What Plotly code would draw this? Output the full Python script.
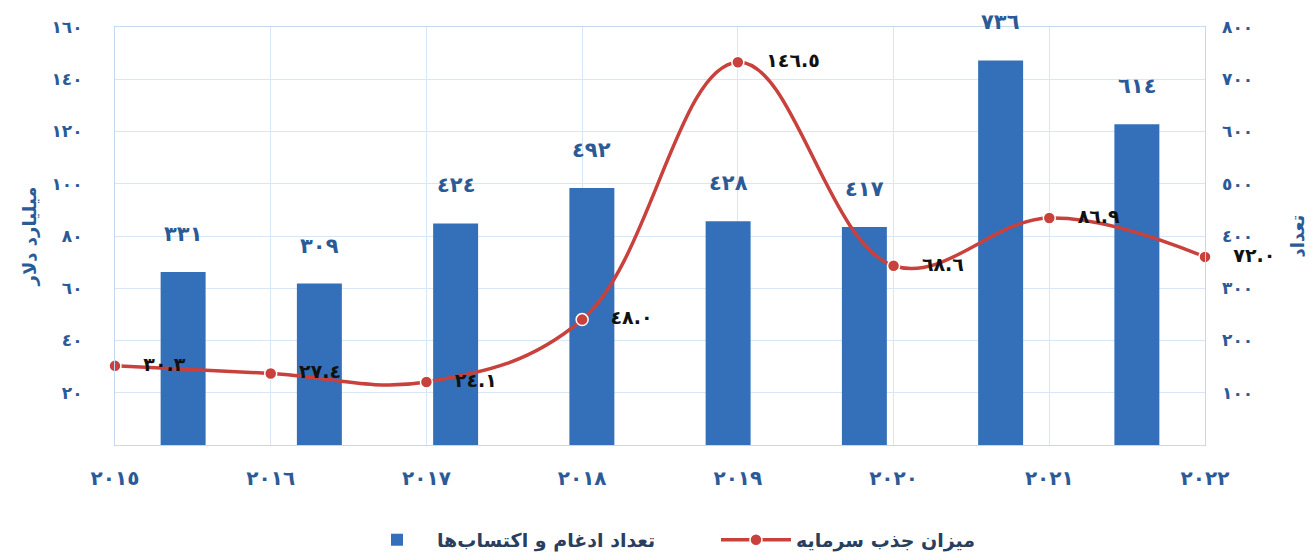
import plotly.graph_objects as go

years = [2015, 2016, 2017, 2018, 2019, 2020, 2021, 2022]
deals = [331, 309, 424, 492, 428, 417, 736, 614]
investment = [30.3, 27.4, 24.1, 48.0, 146.5, 68.6, 86.9, 72.0]
left_ticks = [20, 40, 60, 80, 100, 120, 140, 160]
right_ticks = [100, 200, 300, 400, 500, 600, 700, 800]

bar_name = "تعداد ادغام و اکتساب‌ها"
line_name = "میزان جذب سرمایه"
left_title = "میلیارد دلار"
right_title = "تعداد"

AR = str.maketrans("0123456789", "٠١٢٣٤٥٦٧٨٩")


def ar(v):
    return str(v).translate(AR)


BLUE_TXT = "#2c5a96"
BAR_COL = "#3470b9"
RED = "#c8413d"
GRID = "#d9e6f5"
FONT = "DejaVu Sans"
NB = "\u00a0"

fig = go.Figure()

fig.add_trace(go.Bar(
    x=list(range(len(years))), y=deals, name=bar_name,
    marker=dict(color=BAR_COL, line=dict(width=0)),
    width=0.33, xaxis="x", yaxis="y",
))

fig.add_trace(go.Scatter(
    x=years, y=investment, name=line_name,
    mode="lines+markers+text",
    line=dict(color=RED, width=3.5, shape="spline", smoothing=1.1),
    marker=dict(color=RED, size=12, line=dict(color="white", width=1.5)),
    text=[NB * 3 + ar(f"{v:.1f}") for v in investment],
    textposition="middle right",
    textfont=dict(family=FONT, size=19, color="#111111", weight="bold"),
    cliponaxis=False,
    xaxis="x2", yaxis="y2",
))

for i, v in enumerate(deals):
    fig.add_annotation(
        x=i, y=v, xref="x", yref="y", text=ar(v), showarrow=False,
        yanchor="bottom", yshift=24,
        font=dict(family=FONT, size=21, color=BLUE_TXT, weight="bold"),
    )

fig.update_layout(
    width=1300, height=547,
    margin=dict(l=107, r=103, t=19, b=110, autoexpand=False),
    paper_bgcolor="white", plot_bgcolor="white",
    showlegend=True,
    legend=dict(
        orientation="h", x=0.222, xanchor="left", y=-0.227, yanchor="middle",
        font=dict(family=FONT, size=19, color="#2a3f5f", weight="bold"),
        traceorder="normal", itemwidth=70,
        entrywidth=274, entrywidthmode="pixels",
    ),
    xaxis=dict(
        range=[-0.5, len(years) - 0.5], visible=False, fixedrange=True,
    ),
    yaxis=dict(
        range=[0, 800], side="right", tickvals=right_ticks,
        ticktext=[ar(t) for t in right_ticks], showgrid=False,
        tickfont=dict(family=FONT, size=17, color=BLUE_TXT, weight="bold"),
        ticklabelstandoff=16, zeroline=False, automargin=False,
        title=dict(text=right_title, standoff=40,
                   font=dict(family=FONT, size=18, color=BLUE_TXT, weight="bold")),
    ),
    xaxis2=dict(
        overlaying="x", range=[years[0], years[-1]], tickvals=years,
        ticktext=[ar(y) for y in years], showgrid=True, gridcolor=GRID,
        showline=True, linecolor="#c6d8ef", mirror=True, zeroline=False,
        tickfont=dict(family=FONT, size=20, color=BLUE_TXT, weight="bold"),
        ticklabelstandoff=15, automargin=False,
    ),
    yaxis2=dict(
        overlaying="y", side="left", range=[0, 160], tickvals=left_ticks,
        ticktext=[ar(t) for t in left_ticks], showgrid=True, gridcolor=GRID,
        showline=True, linecolor="#c6d8ef", mirror=True, zeroline=False,
        tickfont=dict(family=FONT, size=17, color=BLUE_TXT, weight="bold"),
        ticklabelstandoff=28, automargin=False,
        title=dict(text=left_title, standoff=10,
                   font=dict(family=FONT, size=18, color=BLUE_TXT, weight="bold")),
    ),
)

fig.write_html("out.html")
